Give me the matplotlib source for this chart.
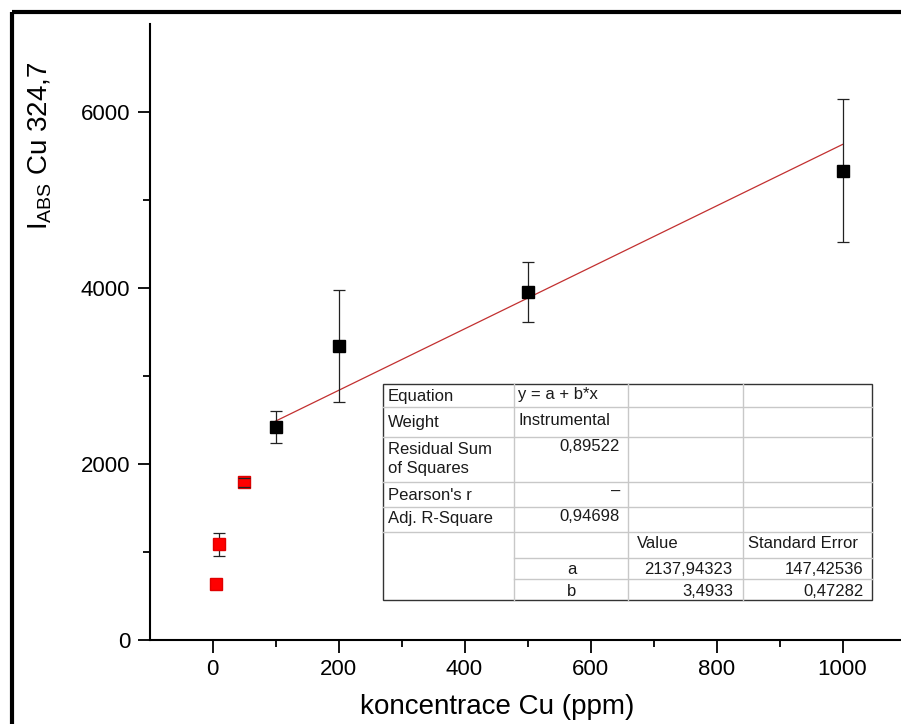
import numpy as np
import matplotlib
matplotlib.use("Agg")
import matplotlib.pyplot as plt
from matplotlib.patches import Rectangle

plt.rcParams['font.family'] = ['Liberation Sans', 'DejaVu Sans']

# points used in the linear fit (black)
conc_fit = [100, 200, 500, 1000]
abs_fit = [2424, 3340, 3954, 5332]
err_fit = [182, 632, 345, 813]

# low concentration points, not in the fit (red)
conc_low = [5, 10, 50]
abs_low = [636, 1088, 1790]
err_low = [15, 132, 55]

# fit result y = a + b*x
fit_a = 2137.94323
fit_b = 3.4933
fit_x = np.array([100, 1000])

xticks = [0, 200, 400, 600, 800, 1000]
xminor = [100, 300, 500, 700, 900]
yticks = [0, 2000, 4000, 6000]
yminor = [1000, 3000, 5000]

# fit table (Origin style)
tab_labels = ["Equation", "Weight", "Residual Sum", "of Squares", "Pearson's r", "Adj. R-Square"]
tab_info = ["y = a + b*x", "Instrumental"]
tab_stats = ["0,89522", "\u2013", "0,94698"]
tab_head = ["Value", "Standard Error"]
tab_params = ["a", "b"]
tab_values = ["2137,94323", "3,4933"]
tab_errors = ["147,42536", "0,47282"]

W, H = 901, 724
fig = plt.figure(figsize=(W / 100, H / 100), dpi=100)

# main axes, in pixel positions of the original
x0, x1 = 149.6, 905.5
y0, y1 = 640, 24
ax = fig.add_axes([x0 / W, 1 - y0 / H, (x1 - x0) / W, (y0 - y1) / H])

ax.plot(fit_x, fit_a + fit_b * fit_x, color='#c23030', lw=0.9, zorder=2)

ebkw = dict(fmt='s', ms=9, ecolor='#222222', elinewidth=0.9, capsize=4, capthick=0.9, zorder=3)
ax.errorbar(conc_fit, abs_fit, yerr=err_fit, color='black', **ebkw)
ax.errorbar(conc_low[:2], abs_low[:2], yerr=err_low[:2], color='#ff0000', mec='#e00000', **ebkw)
# the 50 ppm bar is shorter than the marker, its caps show on top of it
eb = ax.errorbar(conc_low[2:], abs_low[2:], yerr=err_low[2:], color='#ff0000', mec='#e00000', **ebkw)
for c in eb[1]:
    c.set_zorder(4)

ax.set_xlim(-100, 1100)
ax.set_ylim(0, 7000)
ax.set_xticks(xticks)
ax.set_xticks(xminor, minor=True)
ax.set_yticks(yticks)
ax.set_yticks(yminor, minor=True)
ax.tick_params(which='major', direction='out', length=9, width=1.3, labelsize=16, pad=5)
ax.tick_params(which='minor', direction='out', length=5, width=1.3)
for s in ['top', 'right']:
    ax.spines[s].set_visible(False)
for s in ['left', 'bottom']:
    ax.spines[s].set_linewidth(1.5)

ax.set_xlabel("koncentrace Cu (ppm)", fontsize=20)
ax.xaxis.set_label_coords((497.5 - x0) / (x1 - x0), -0.088)
ax.set_ylabel(r"$\mathregular{I_{ABS}}$ Cu 324,7", fontsize=20)
ax.yaxis.label.set_va('center')
ax.yaxis.set_label_coords((40 - x0) / (x1 - x0), (y0 - 146) / (y0 - y1))

# overlay in pixel coordinates for the frame and the table
ov = fig.add_axes([0, 0, 1, 1])
ov.set_xlim(0, W)
ov.set_ylim(H, 0)
ov.axis('off')
ov.patch.set_alpha(0)

ov.add_patch(Rectangle((12, 12), 1000, 1000, fill=False, ec='black', lw=3))

col_x = [382.7, 514.3, 628.3, 742.7, 872]
row_y = [384, 407.3, 436.7, 482.3, 506.7, 531.7, 558.3, 579.3, 600]
ov.add_patch(Rectangle((col_x[0], row_y[0]), col_x[-1] - col_x[0], row_y[-1] - row_y[0],
                       fc='white', ec='#333333', lw=1, zorder=1))
for i, yy in enumerate(row_y[1:-1], start=1):
    xs = col_x[1] if i >= 6 else col_x[0]
    ov.plot([xs, col_x[-1]], [yy, yy], color='#c8c8c8', lw=1, zorder=2)
for xx in col_x[1:-1]:
    ov.plot([xx, xx], [row_y[0], row_y[-1]], color='#c8c8c8', lw=1, zorder=2)

tk = dict(fontsize=12, color='#1a1a1a', va='center', zorder=3)
lab_y = [396.5, 422.5, 449.3, 468.3, 495, 518.3]
for s, yy in zip(tab_labels, lab_y):
    ov.text(388, yy, s, ha='left', **tk)
for s, yy in zip(tab_info, [394, 420.5]):
    ov.text(518, yy, s, ha='left', **tk)
for s, yy in zip(tab_stats, [446.5, 491.5, 516.5]):
    ov.text(620, yy, s, ha='right', **tk)
for s, xx in zip(tab_head, [636.5, 748.3]):
    ov.text(xx, 543.3, s, ha='left', **tk)
for p, v, e, yy in zip(tab_params, tab_values, tab_errors, [569.3, 591.7]):
    ov.text(571.7, yy, p, ha='center', **tk)
    ov.text(732.7, yy, v, ha='right', **tk)
    ov.text(863.3, yy, e, ha='right', **tk)

fig.savefig("out.png", dpi=100)
